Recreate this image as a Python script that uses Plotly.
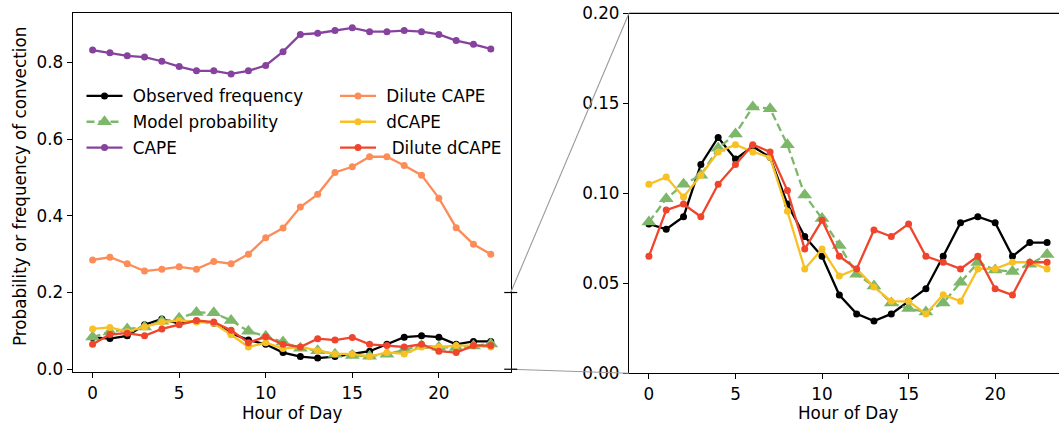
import plotly.graph_objects as go

hours = list(range(24))

observed = [0.083, 0.080, 0.087, 0.116, 0.131, 0.119, 0.126, 0.120, 0.094, 0.076, 0.065, 0.0435,
            0.033, 0.029, 0.033, 0.040, 0.047, 0.065, 0.0837, 0.087, 0.0837, 0.065, 0.0726, 0.0726]
model = [0.084, 0.097, 0.105, 0.110, 0.125, 0.133, 0.148, 0.147, 0.127, 0.099, 0.086, 0.071,
         0.055, 0.0485, 0.039, 0.036, 0.034, 0.039, 0.0506, 0.0615, 0.0574, 0.0565, 0.0606, 0.066]
cape = [0.832, 0.825, 0.817, 0.814, 0.803, 0.789, 0.778, 0.778, 0.770, 0.778, 0.792, 0.828,
        0.873, 0.876, 0.883, 0.890, 0.880, 0.880, 0.883, 0.880, 0.873, 0.857, 0.847, 0.835]
dilute_cape = [0.285, 0.292, 0.275, 0.256, 0.261, 0.267, 0.261, 0.281, 0.275, 0.300, 0.343, 0.368,
               0.423, 0.456, 0.513, 0.528, 0.554, 0.554, 0.531, 0.506, 0.446, 0.369, 0.326, 0.300]
dcape = [0.105, 0.109, 0.098, 0.110, 0.123, 0.127, 0.123, 0.120, 0.090, 0.058, 0.069, 0.054,
         0.058, 0.048, 0.040, 0.040, 0.033, 0.0437, 0.040, 0.058, 0.058, 0.0617, 0.0617, 0.058]
dilute_dcape = [0.065, 0.0907, 0.094, 0.087, 0.105, 0.116, 0.127, 0.123, 0.1015, 0.069, 0.085, 0.065,
                0.058, 0.0796, 0.076, 0.083, 0.065, 0.0617, 0.058, 0.065, 0.047, 0.0435, 0.0617, 0.0617]

x_ticks = [0, 5, 10, 15, 20]
left_yticks = [0.0, 0.2, 0.4, 0.6, 0.8]
right_yticks = [0.0, 0.05, 0.10, 0.15, 0.20]
zoom_range = [0.0, 0.2]

W, H = 1059, 425
FONT = "DejaVu Sans"
FS = 16.8

C_OBS = "black"
C_MODEL = "#7db86a"
C_CAPE = "#86439d"
C_DCAPE_DIL = "#fc8d59"
C_DCAPE = "#f7c024"
C_DDCAPE = "#f0452d"

series = [
    ("Observed frequency", observed, C_OBS, "circle", 7, "solid", "legend", 1),
    ("Model probability", model, C_MODEL, "triangle-up", 13, "8px,4px", "legend", 2),
    ("CAPE", cape, C_CAPE, "circle", 7, "solid", "legend", 3),
    ("Dilute CAPE", dilute_cape, C_DCAPE_DIL, "circle", 7, "solid", "legend2", 4),
    ("dCAPE", dcape, C_DCAPE, "circle", 7, "solid", "legend2", 5),
    (" Dilute dCAPE", dilute_dcape, C_DDCAPE, "circle", 7, "solid", "legend2", 6),
]

fig = go.Figure()
for name, vals, col, sym, ms, dash, leg, rank in series:
    fig.add_trace(go.Scatter(
        x=hours, y=vals, name=" " + name, mode="lines+markers",
        line=dict(color=col, width=2.3, dash=dash),
        marker=dict(color=col, symbol=sym, size=ms, line=dict(width=0)),
        legend=leg, legendgroup=name, legendrank=rank,
        xaxis="x", yaxis="y"))

zoom_names = {"Observed frequency", "Model probability", "dCAPE", " Dilute dCAPE"}
for name, vals, col, sym, ms, dash, leg, rank in series:
    if name not in zoom_names:
        continue
    fig.add_trace(go.Scatter(
        x=hours, y=vals, name=name, mode="lines+markers",
        line=dict(color=col, width=2.3, dash=dash),
        marker=dict(color=col, symbol=sym, size=ms, line=dict(width=0)),
        showlegend=False, xaxis="x2", yaxis="y2"))

# domains
lx = [72.7 / W, 510.7 / W]
ly = [1 - 372.3 / H, 1 - 13.3 / H]
rx = [629.0 / W, 1.0]
ry = [1 - 373.3 / H, 1 - 13.3 / H]
left_yr = [-0.008, 0.928]
xr_left = [-1.15, 24.15]
px_per_hour = (lx[1] - lx[0]) * W / (xr_left[1] - xr_left[0])
xr_right = [-1.15, -1.15 + (rx[1] - rx[0]) * W / px_per_hour]

axis_common = dict(showline=True, linecolor="black", linewidth=1.2, ticks="outside",
                   ticklen=5, tickwidth=1.2, tickcolor="black", showgrid=False, zeroline=False,
                   automargin=False,
                   tickfont=dict(family=FONT, size=FS, color="black"))

fig.update_layout(
    width=W, height=H, margin=dict(l=0, r=0, t=0, b=0, autoexpand=False),
    paper_bgcolor="white", plot_bgcolor="white",
    font=dict(family=FONT, size=FS, color="black"),
    xaxis=dict(domain=lx, range=xr_left, tickvals=x_ticks, mirror=True, anchor="y", **axis_common),
    yaxis=dict(domain=ly, range=left_yr, tickvals=left_yticks, ticktext=[f"{v:.1f}" for v in left_yticks],
               mirror=True, anchor="x", **axis_common),
    xaxis2=dict(domain=rx, range=xr_right, tickvals=x_ticks, mirror=False, anchor="y2", **axis_common),
    yaxis2=dict(domain=ry, range=zoom_range, tickvals=right_yticks,
                ticktext=[f"{v:.2f}" for v in right_yticks], mirror=False, anchor="x2",
                **axis_common),
    legend=dict(x=81.5 / W, y=1 - 78.5 / H, xanchor="left", yanchor="top",
                bgcolor="rgba(0,0,0,0)", borderwidth=0, traceorder="grouped",
                tracegroupgap=1, itemwidth=36,
                font=dict(family=FONT, size=FS, color="black")),
    legend2=dict(x=335 / W, y=1 - 78.5 / H, xanchor="left", yanchor="top",
                 bgcolor="rgba(0,0,0,0)", borderwidth=0, traceorder="grouped",
                 tracegroupgap=1, itemwidth=36,
                 font=dict(family=FONT, size=FS, color="black")),
)


def ly_paper(v):
    return ly[0] + (v - left_yr[0]) / (left_yr[1] - left_yr[0]) * (ly[1] - ly[0])


def ry_paper(v):
    return ry[0] + (v - zoom_range[0]) / (zoom_range[1] - zoom_range[0]) * (ry[1] - ry[0])


shapes = []
# top border of right panel
shapes.append(dict(type="line", xref="paper", yref="paper", x0=rx[0], x1=rx[1], y0=ry[1], y1=ry[1],
                   line=dict(color="black", width=1.2)))
# connector lines
for v in zoom_range:
    shapes.append(dict(type="line", xref="paper", yref="paper", x0=lx[1], y0=ly_paper(v),
                       x1=rx[0], y1=ry_paper(v), line=dict(color="#9a9a9a", width=1.1)))
# inset indicator marks on left panel
for v in zoom_range:
    shapes.append(dict(type="line", xref="paper", yref="paper", x0=lx[1] - 6.5 / W, x1=lx[1] + 6.5 / W,
                       y0=ly_paper(v), y1=ly_paper(v), line=dict(color="black", width=1.2)))
fig.update_layout(shapes=shapes)

# axis titles
title_y = 1 - 413 / H
right_center = (rx[0] * W + (24.15 - xr_right[0]) * px_per_hour / 2) / W
annotations = [
    dict(text="Hour of Day", xref="paper", yref="paper", x=(lx[0] + lx[1]) / 2, y=title_y,
         xanchor="center", yanchor="middle", showarrow=False, font=dict(family=FONT, size=FS)),
    dict(text="Hour of Day", xref="paper", yref="paper", x=right_center, y=title_y,
         xanchor="center", yanchor="middle", showarrow=False, font=dict(family=FONT, size=FS)),
    dict(text="Probability or frequency of convection", xref="paper", yref="paper",
         x=20 / W, y=1 - 187 / H, textangle=-90, xanchor="center", yanchor="middle",
         showarrow=False, font=dict(family=FONT, size=FS)),
]
fig.update_layout(annotations=annotations)

fig.write_html("out.html")
